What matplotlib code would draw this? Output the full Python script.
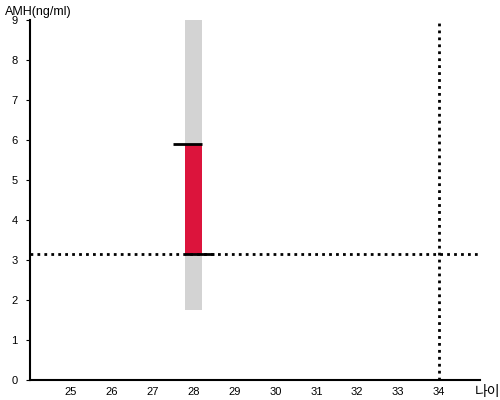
import matplotlib.pyplot as plt

plt.rcParams['font.family'] = ['Liberation Sans', 'Noto Sans CJK KR', 'DejaVu Sans']

# datos
edad = 28
rango_min, rango_max = 1.75, 9.0       # rango gris
valor_bajo, valor_alto = 3.15, 5.9     # barra roja
edad_ref = 34
amh_ref = 3.15
x_ticks = [25, 26, 27, 28, 29, 30, 31, 32, 33, 34]
y_ticks = [0, 1, 2, 3, 4, 5, 6, 7, 8, 9]

fig = plt.figure(figsize=(5, 4), dpi=100)
ax = fig.add_axes([0.06, 0.05, 0.90, 0.90])

ax.bar(edad, rango_max - rango_min, bottom=rango_min, width=0.4, color='#d3d3d3', zorder=1)
ax.bar(edad, valor_alto - valor_bajo, bottom=valor_bajo, width=0.4, color='#dc143c', zorder=2)
ax.plot([edad - 0.5, edad + 0.2], [valor_alto, valor_alto], color='black', lw=2,
        solid_capstyle='butt', zorder=3)
ax.plot([edad - 0.2, edad + 0.5], [valor_bajo, valor_bajo], color='black', lw=2,
        solid_capstyle='butt', zorder=3)

ax.axhline(amh_ref, color='black', ls=(0, (1, 1.5)), lw=2, zorder=4)
ax.axvline(edad_ref, color='black', ls=(0, (1, 1.5)), lw=2, zorder=4)

ax.set_xlim(24, 35)
ax.set_ylim(0, 9)
ax.set_xticks(x_ticks)
ax.set_yticks(y_ticks)
ax.tick_params(axis='x', length=0, labelsize=8, pad=5)
ax.tick_params(axis='y', length=3, labelsize=8, pad=6)
for s in ['top', 'right']:
    ax.spines[s].set_visible(False)
ax.spines['left'].set_linewidth(1.5)
ax.spines['bottom'].set_linewidth(1.5)

fig.text(0.01, 0.97, 'AMH(ng/ml)', fontsize=9, va='center')
fig.text(0.95, 0.02, '나이', fontsize=10, va='center')

fig.savefig('out.png', dpi=100)
